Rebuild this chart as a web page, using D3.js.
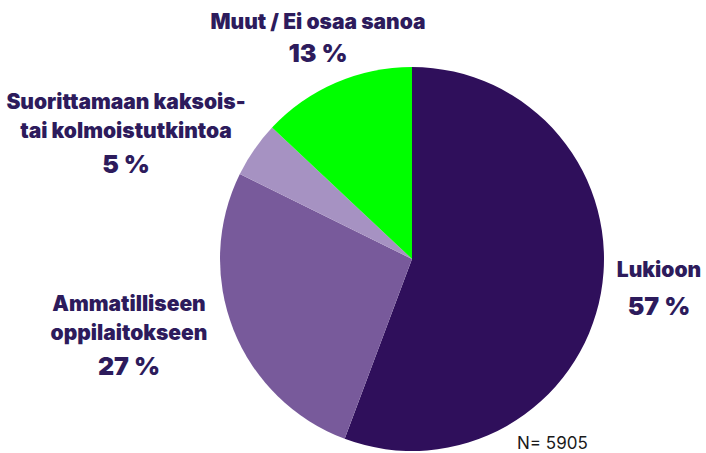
<!DOCTYPE html>
<html>
<head>
<meta charset="utf-8">
<script src="https://cdn.jsdelivr.net/npm/d3@7"></script>
<style>
  body { margin: 0; background: #fff; }
  svg text { font-family: Inter, Lato, "Noto Sans", sans-serif; }
</style>
</head>
<body>
<div id="chart"></div>
<script>
// Pie of where pupils go next
const categories = ['Lukioon', 'Ammatilliseen oppilaitokseen', 'Suorittamaan kaksois- tai kolmoistutkintoa', 'Muut / Ei osaa sanoa'];
const values = [55.7, 26.6, 4.7, 13.0];
const percentLabels = ['57 %', '27 %', '5 %', '13 %'];
const labelLines = [
    ['Lukioon'],
    ['Ammatilliseen', 'oppilaitokseen'],
    ['Suorittamaan kaksois-', 'tai kolmoistutkintoa'],
    ['Muut / Ei osaa sanoa']
];
const colors = ['#2f0f5b', '#785a9b', '#a692c2', '#00ff00'];
const nText = 'N= 5905';

(function() {
    const width = 706, height = 453;
    const cx = 412, cy = 259, radius = 192;
    const textColor = '#2d1b5c';

    const svg = d3.select('#chart')
        .append('svg')
        .attr('width', width)
        .attr('height', height);

    const pie = d3.pie().sort(null).value(d => d);
    const arc = d3.arc().innerRadius(0).outerRadius(radius);

    const g = svg.append('g')
        .attr('transform', `translate(${cx},${cy})`);

    g.selectAll('path')
        .data(pie(values))
        .enter()
        .append('path')
        .attr('d', arc)
        .attr('fill', (d, i) => colors[i]);

    // label anchor points (center x, first baseline y)
    const labelPos = [
        {x: 659, y: 277, gap: 38},
        {x: 129, y: 311, gap: 35},
        {x: 126, y: 109, gap: 35},
        {x: 318, y: 29, gap: 33}
    ];

    categories.forEach((c, i) => {
        const p = labelPos[i];
        const t = svg.append('text')
            .attr('x', p.x)
            .attr('y', p.y)
            .attr('text-anchor', 'middle')
            .style('fill', textColor)
            .style('font-weight', 900);
        labelLines[i].forEach((line, j) => {
            t.append('tspan')
                .attr('x', p.x)
                .attr('y', p.y + j * 28.5)
                .style('font-size', '21px')
                .text(line);
        });
        svg.append('text')
            .attr('x', p.x)
            .attr('y', p.y + (labelLines[i].length - 1) * 28.5 + p.gap)
            .attr('text-anchor', 'middle')
            .style('fill', textColor)
            .style('font-weight', 900)
            .style('font-size', '25px')
            .text(percentLabels[i]);
    });

    svg.append('text')
        .attr('x', 517)
        .attr('y', 449)
        .style('fill', '#1a1a1a')
        .style('font-size', '17px')
        .text(nText);
})();
</script>
</body>
</html>
